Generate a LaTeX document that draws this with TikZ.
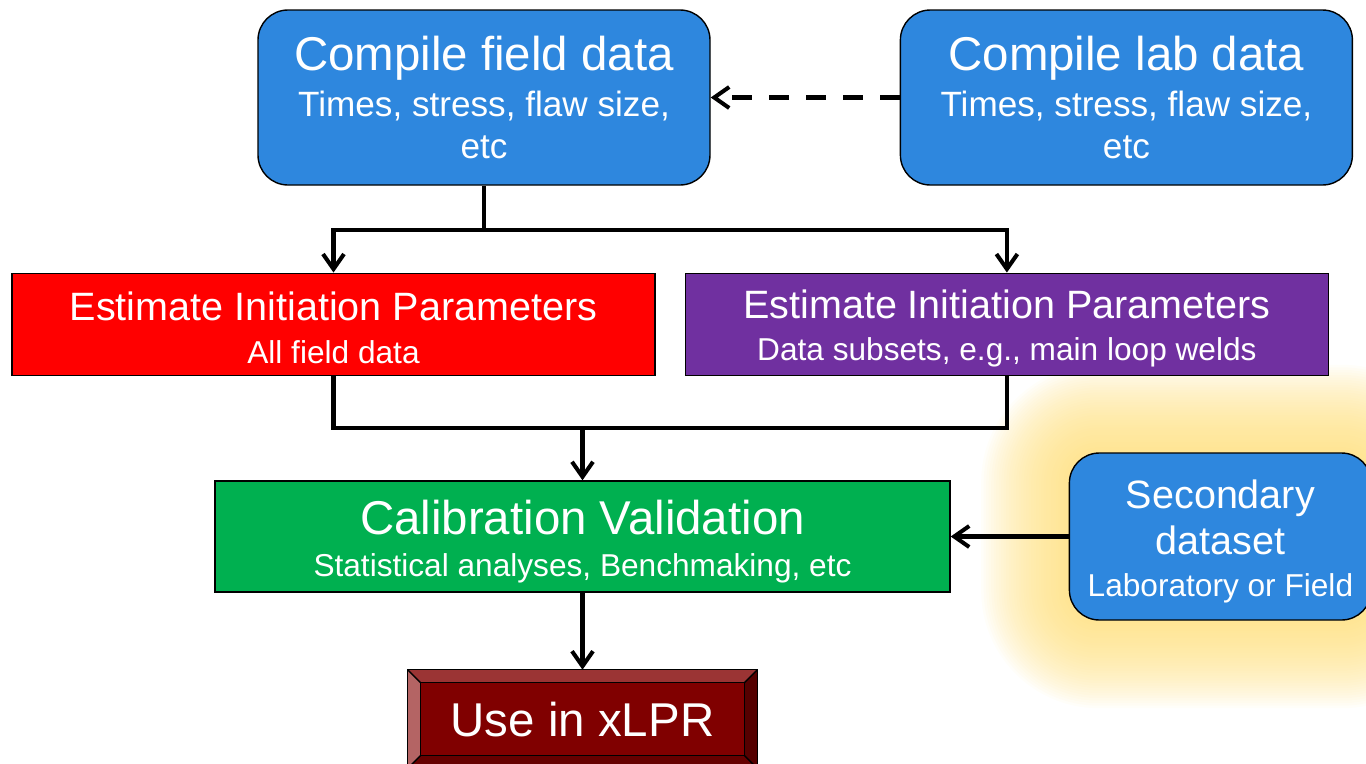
\documentclass[tikz,border=0pt]{standalone}
\usepackage{fontspec}
\setmainfont{Liberation Sans}
\usetikzlibrary{positioning,arrows.meta,backgrounds}

\definecolor{srcblue}{RGB}{46,135,222}
\definecolor{allred}{RGB}{255,0,0}
\definecolor{subpurple}{RGB}{112,48,160}
\definecolor{calgreen}{RGB}{0,176,80}
\definecolor{xlpr}{RGB}{128,0,0}
\definecolor{xlprtop}{RGB}{155,52,52}
\definecolor{xlprleft}{RGB}{180,100,100}
\definecolor{xlprright}{RGB}{85,0,0}
\definecolor{xlprbot}{RGB}{102,0,0}
\definecolor{glowyellow}{RGB}{255,222,120}

\newcommand{\bigtxt}{\fontsize{27}{32}\selectfont}
\newcommand{\midtxt}{\fontsize{22.5}{27}\selectfont}
\newcommand{\subtxt}{\fontsize{20}{24}\selectfont}
\newcommand{\smalltxt}{\fontsize{18}{24}\selectfont}

\tikzset{
  srcbox/.style={draw=black, line width=0.8pt, fill=srcblue, rounded corners=0.6cm,
    text=white, align=center, inner sep=0pt, minimum width=9.04cm, minimum height=3.5cm, font=\subtxt},
  estbox/.style={draw=black, line width=0.8pt, text=white, align=center, inner sep=0pt,
    minimum width=12.86cm, minimum height=2.05cm, font=\smalltxt},
  flow/.style={line width=2.3pt, -{Straight Barb[length=0.3cm,width=0.42cm]}},
  link/.style={line width=2.3pt},
}

\begin{document}
\begin{tikzpicture}
  \useasboundingbox (0,0) rectangle (27.32,-15.26);

  \node[srcbox] (field) at (9.68,-1.95) {{\bigtxt Compile field data}\\[2pt]Times, stress, flaw size,\\etc};
  \node[srcbox, right=3.78cm of field] (lab) {{\bigtxt Compile lab data}\\[2pt]Times, stress, flaw size,\\etc};

  \node[estbox, fill=allred] (allfield) at (6.67,-6.49) {\rule{0pt}{20pt}{\midtxt Estimate Initiation Parameters}\\All field data};
  \node[estbox, fill=subpurple, right=0.58cm of allfield] (subsets) {\rule{0pt}{20.5pt}{\midtxt Estimate Initiation Parameters}\\Data subsets, e.g., main loop welds};

  \node[estbox, fill=calgreen, minimum width=14.7cm, minimum height=2.22cm] (calib) at (11.65,-10.73)
    {\rule{0pt}{25.5pt}{\bigtxt Calibration Validation}\\Statistical analyses, Benchmaking, etc};
  \node[srcbox, font=\smalltxt, minimum width=6.04cm, minimum height=3.34cm, right=2.36cm of calib] (second)
    {\rule{0pt}{22pt}{\midtxt Secondary}\\[2.5pt]{\midtxt dataset}\\Laboratory or Field};

  \node[fill=xlpr, text=white, font=\bigtxt, inner sep=0pt, minimum width=6.98cm, minimum height=1.96cm,
    below=1.54cm of calib] (use) {Use in xLPR};

  % bevel of the last box
  \fill[xlprtop] (use.north west) -- (use.north east) -- ([shift={(-0.26,-0.26)}]use.north east) -- ([shift={(0.26,-0.26)}]use.north west) -- cycle;
  \fill[xlprleft] (use.north west) -- ([shift={(0.26,-0.26)}]use.north west) -- ([shift={(0.26,0.26)}]use.south west) -- (use.south west) -- cycle;
  \fill[xlprright] (use.north east) -- ([shift={(-0.26,-0.26)}]use.north east) -- ([shift={(-0.26,0.26)}]use.south east) -- (use.south east) -- cycle;
  \fill[xlprbot] (use.south west) -- ([shift={(0.26,0.26)}]use.south west) -- ([shift={(-0.26,0.26)}]use.south east) -- (use.south east) -- cycle;
  \draw[line width=0.8pt] (use.north west) rectangle (use.south east);
  \draw[line width=0.8pt] ([shift={(0.26,-0.26)}]use.north west) rectangle ([shift={(-0.26,0.26)}]use.south east);
  \draw[line width=0.8pt] (use.north west) -- ++(0.26,-0.26) (use.north east) -- ++(-0.26,-0.26)
    (use.south west) -- ++(0.26,0.26) (use.south east) -- ++(-0.26,0.26);

  % glow
  \begin{scope}[on background layer]
    \foreach \d in {0.05,0.1,...,1.8}
      \fill[glowyellow, opacity=0.045, rounded corners=0.6cm+\d cm]
        ([shift={(-\d,\d)}]second.north west) rectangle ([shift={(\d,-\d)}]second.south east);
  \end{scope}

  \coordinate (split) at ([yshift=-0.88cm]field.south);
  \coordinate (merge) at (calib.north |- 0,-8.56);

  %field>estimates
  \draw[link] (field.south) -- (split);
  \draw[flow] (split) -| (allfield.north);
  \draw[flow] (split) -| (subsets.north);

  %estimates>calib
  \draw[link] (allfield.south) |- (merge) -| (subsets.south);
  \draw[flow] (merge) -- (calib.north);

  \draw[flow, dash pattern=on 0.4cm off 0.34cm] (lab.west) -- (field.east);
  \draw[flow] (second.west) -- (calib.east);
  \draw[flow] (calib.south) -- (use.north);
\end{tikzpicture}
\end{document}
